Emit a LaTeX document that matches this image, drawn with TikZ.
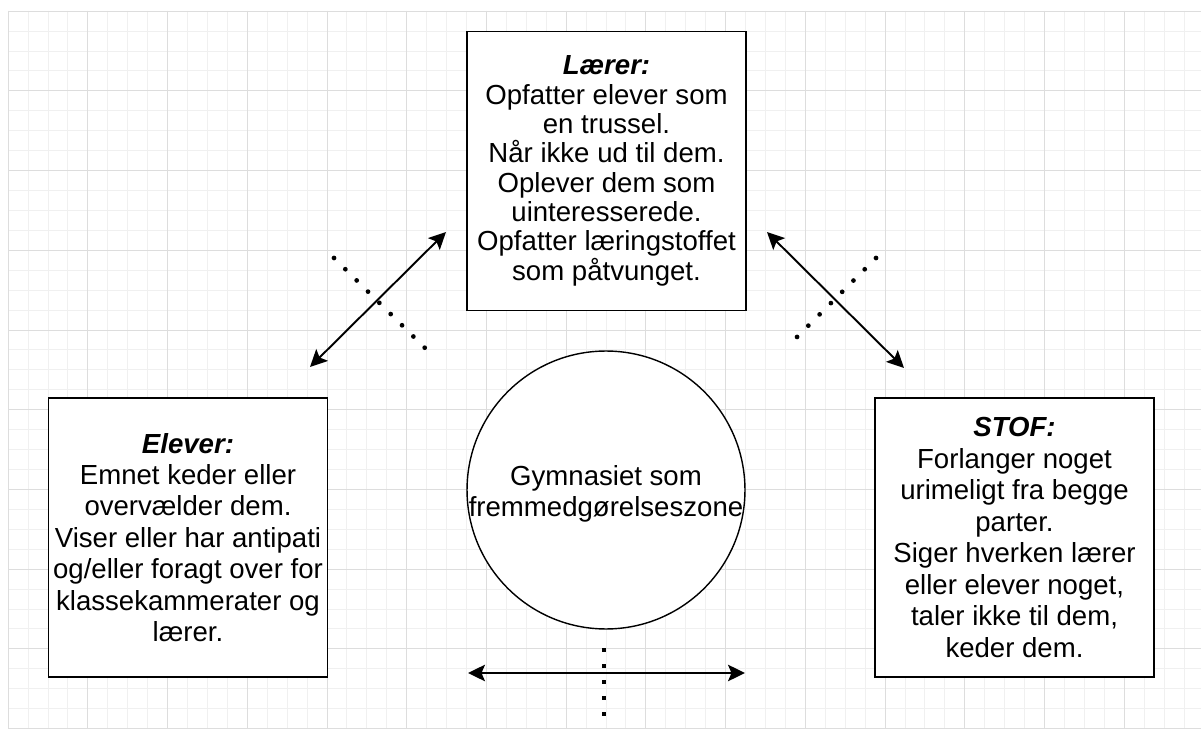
\documentclass[tikz,border=0pt]{standalone}
\usepackage{fontspec}
\setmainfont{Liberation Sans}
\usetikzlibrary{arrows.meta}
\definecolor{gitterlys}{HTML}{F0F0F0}
\definecolor{gittermork}{HTML}{DDDDDD}
\tikzset{
    tekst/.style={align=center, inner sep=0pt,
        font=\fontsize{15.7}{17.9}\selectfont},
    boks/.style={tekst, draw, line width=1.1pt, fill=white, minimum width=5.58cm,
        minimum height=5.58cm},
    pil/.style={line width=1.1pt,
        {Stealth[length=0.34cm,width=0.33cm,inset=0.07cm]}-{Stealth[length=0.34cm,width=0.33cm,inset=0.07cm]}},
    prikker/.style={line width=2.7pt, line cap=round, dash pattern=on 0pt off 0.319cm},
    firkantprikker/.style={line width=2.4pt, line cap=rect, dash pattern=on 0.05pt off 0.318cm},
}
\begin{document}
\lineskiplimit=-20pt
\begin{tikzpicture}[x=0.02cm,y=-0.02cm]
    \useasboundingbox (0,0) rectangle (1201,729);
    \fill[white] (0,0) rectangle (1201,729);
    \foreach \i in {0,...,59}{
      \draw[gitterlys] ({8+19.93*\i},11) -- ({8+19.93*\i},728.5);
    }
    \foreach \i in {0,...,36}{
      \draw[gitterlys] (8,{11+19.93*\i}) -- (1201,{11+19.93*\i});
    }
    \foreach \i in {0,...,14}{
      \draw[gittermork] ({8+79.72*\i},11) -- ({8+79.72*\i},728.5);
    }
    \foreach \i in {0,...,9}{
      \draw[gittermork] (8,{11+79.72*\i}) -- (1201,{11+79.72*\i});
    }

    \node[boks, font=\fontsize{15.7}{16.7}\selectfont] (laerer) at (606.5,171) {\textbf{\textit{Lærer:}}\\Opfatter elever som\\en trussel.\\Når ikke ud til dem.\\Oplever dem som\\uinteresserede.\\Opfatter læringstoffet\\som påtvunget.};
    \node[boks] (elever) at (188,537.5) {\textbf{\textit{Elever:}}\\Emnet keder eller\\overvælder dem.\\Viser eller har antipati\\og/eller foragt over for\\klassekammerater og\\lærer.};
    \node[boks] (stof) at (1014.5,537.5) {\textbf{\textit{STOF:}}\\Forlanger noget\\urimeligt fra begge\\parter.\\Siger hverken lærer\\eller elever noget,\\taler ikke til dem,\\keder dem.};

    \node[circle, draw, line width=0.8pt, fill=white, minimum size=5.56cm, inner sep=0pt] (zone) at (606,490) {};
    \node[tekst, font=\fontsize{15.7}{17.5}\selectfont] (zonetekst) at (606,494) {Gymnasiet som\\fremmedgørelseszone};

    \coordinate (venstre1) at (310,367);
    \coordinate (venstre2) at (446,232);
    \coordinate (hoejre1) at (767,232);
    \coordinate (hoejre2) at (904,368);
    \coordinate (bund1) at (468,673);
    \coordinate (bund2) at (745,673);
    \draw[pil] (venstre1) -- (venstre2);
    \draw[pil] (hoejre1) -- (hoejre2);
    \draw[pil] (bund1) -- (bund2);

    \coordinate (vprik1) at (334,258);
    \coordinate (vprik2) at (425,348);
    \coordinate (hprik1) at (876,258);
    \coordinate (hprik2) at (786,348);
    \coordinate (bprik1) at (604,650);
    \coordinate (bprik2) at (604,714);
    \draw[prikker] (vprik1) -- (vprik2);
    \draw[prikker] (hprik1) -- (hprik2);
    \draw[firkantprikker] (bprik1) -- (bprik2);
\end{tikzpicture}
\end{document}
